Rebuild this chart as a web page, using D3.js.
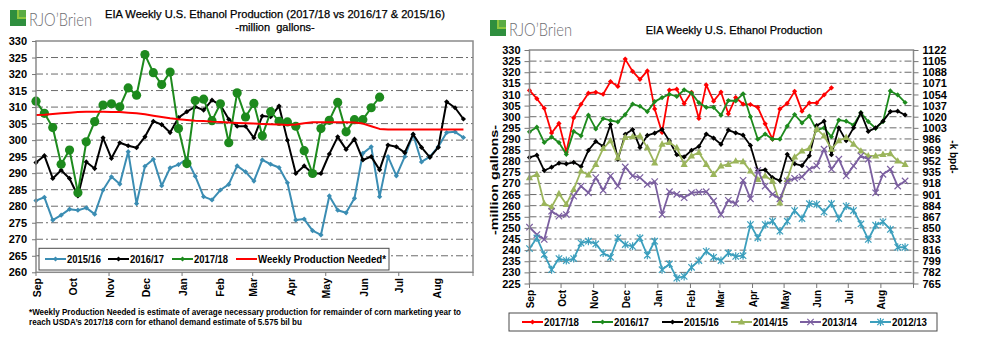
<!DOCTYPE html>
<html>
<head>
<meta charset="utf-8">
<script src="https://cdn.jsdelivr.net/npm/d3@7"></script>
<style>
  body { margin: 0; background: #fff; }
  svg { display: block; font-family: "Liberation Sans", Arial, sans-serif; }
</style>
</head>
<body>
<div id="chart"></div>
<script>
// Datos: meses del año comercial (sep-ago) y su día de inicio
const months = ['Sep', 'Oct', 'Nov', 'Dec', 'Jan', 'Feb', 'Mar', 'Apr', 'May', 'Jun', 'Jul', 'Aug'];
const monthDays = [0, 30, 61, 91, 122, 153, 181, 212, 242, 273, 303, 334];

// Producción semanal (millones de galones)
const prod1718 = [311.8, 308.1, 303.8, 292.7, 297.0, 284.1, 299.5, 305.6, 310.6, 311.0, 310.1, 315.8, 313.6, 325.9,
  320.4, 316.8, 320.6, 303.5, 292.9, 312.0, 312.4, 305.9, 311.0, 299.2, 314.3, 307.0, 311.1, 301.3, 308.6, 305.7,
  305.5, 304.2, 296.8, 289.9, 303.5, 306.0, 311.4, 302.5, 306.2, 306.2, 309.8, 313.0];
const prod1617 = [293.2, 295.3, 288.4, 290.9, 288.4, 283.1, 293.4, 291.4, 300.7, 294.5, 299.2, 298.3, 297.7, 301.0,
  305.7, 304.7, 302.3, 306.8, 308.6, 310.1, 309.1, 312.1, 310.6, 306.3, 304.2, 304.2, 300.7, 307.3, 307.1, 310.3,
  300.0, 289.9, 292.2, 289.9, 289.9, 295.8, 301.0, 297.2, 300.3, 294.0, 295.0, 291.0, 298.5, 298.0, 296.2, 301.8,
  297.8, 294.8, 297.8, 311.6, 309.8, 306.4];
const prod1516 = [281.7, 282.7, 275.8, 277.3, 279.1, 278.8, 279.5, 277.6, 284.9, 288.9, 286.7, 296.5, 280.8, 292.1,
  294.2, 286.2, 291.6, 292.6, 294.3, 289.1, 282.9, 281.9, 284.9, 286.6, 292.2, 290.4, 287.6, 294.0, 292.7, 291.7,
  287.1, 275.8, 276.1, 272.6, 271.3, 283.1, 278.8, 278.0, 282.4, 296.0, 298.0, 282.9, 295.0, 289.2, 295.0, 301.7,
  293.4, 295.0, 298.0, 302.3, 302.5, 300.8];
const prod1415 = [272.6, 274.1, 261.0, 259.4, 265.4, 260.6, 267.3, 275.6, 273.8, 278.6, 285.7, 289.2, 281.6, 290.7,
  291.0, 291.4, 286.1, 279.2, 287.7, 288.4, 286.1, 278.6, 282.4, 283.9, 278.6, 274.1, 277.9, 278.6, 280.1, 279.8,
  275.6, 271.8, 273.4, 271.1, 261.3, 271.8, 281.9, 284.6, 285.8, 294.4, 291.4, 285.4, 289.2, 290.7, 287.7, 284.6,
  282.4, 282.4, 283.1, 283.4, 280.1, 278.6];
const prod1314 = [250.3, 247.0, 244.8, 257.5, 255.3, 256.0, 264.3, 268.8, 265.8, 272.6, 266.9, 273.4, 268.8, 277.4,
  273.4, 272.6, 269.6, 270.8, 256.0, 266.3, 265.1, 263.6, 265.8, 266.1, 266.3, 262.1, 256.0, 262.4, 260.9, 271.4,
  263.1, 275.9, 268.8, 265.1, 263.1, 271.1, 272.3, 272.9, 276.4, 277.9, 285.4, 276.4, 280.9, 273.4, 277.9, 282.4,
  280.9, 265.8, 274.1, 276.4, 268.8, 271.1];
const prod1213 = [240.7, 245.5, 238.0, 231.2, 236.2, 235.3, 236.2, 243.2, 244.0, 242.8, 238.7, 236.8, 245.5, 242.5,
  241.7, 245.5, 237.7, 244.0, 231.2, 233.8, 227.4, 228.2, 232.3, 235.3, 239.5, 236.8, 235.3, 238.7, 237.2, 237.5,
  251.5, 245.5, 251.5, 253.0, 248.5, 253.0, 257.8, 254.2, 260.9, 260.6, 257.2, 260.9, 254.2, 259.8, 257.8, 251.8,
  244.8, 251.2, 252.7, 249.3, 241.3, 241.3];
// Producción semanal necesaria
const needed = [307.6, 307.7, 307.9, 308.1, 308.3, 308.5, 308.6, 308.6, 308.6, 308.5, 308.5, 308.3, 308.1, 307.8,
  307.4, 307.0, 306.6, 306.3, 306.1, 305.9, 305.8, 305.6, 305.5, 305.3, 305.2, 305.1, 305.0, 304.9, 304.8, 304.7,
  304.6, 304.7, 305.1, 305.4, 305.4, 305.4, 305.4, 305.4, 305.3, 305.0, 304.2, 303.4, 303.2, 303.2, 303.2, 303.2,
  303.2, 303.2, 303.2, 303.2, 303.2, 303.2];

// Etiquetas de ejes
const leftTicksL = d3.range(260, 331, 5);
const leftTicksR = d3.range(225, 331, 5);
const rightTicksR = d3.range(765, 1123, 17);

const svg = d3.select('#chart').append('svg')
    .attr('width', 995)
    .attr('height', 360);

const gridColor = '#6b6b6b';

function drawLogo(x, y) {
    const g = svg.append('g').attr('transform', `translate(${x},${y})`);
    g.append('rect').attr('x', 0).attr('y', 0).attr('width', 16).attr('height', 16).attr('fill', '#8dc63f');
    g.append('path').attr('d', 'M0,0 H7 V9 H16 V16 H0 Z').attr('fill', '#2f8f3e');
    g.append('path').attr('d', 'M9,0 H16 V7 H9 Z').attr('fill', '#5aab44');
    g.append('text')
        .attr('x', 19).attr('y', 16)
        .attr('font-family', 'Lato, "Open Sans", sans-serif')
        .attr('font-weight', 300)
        .attr('font-size', '18px')
        .attr('fill', '#6d6e71')
        .attr('textLength', 63)
        .attr('lengthAdjust', 'spacingAndGlyphs')
        .text('RJO\u2019Brien');
}

function drawMarker(g, type, color, x, y) {
    const m = g.append('g').attr('transform', `translate(${x},${y})`);
    if (type === 'circle') {
        m.append('circle').attr('r', 4.6).attr('fill', color);
    } else if (type === 'diamond') {
        m.append('path').attr('d', 'M0,-2.6L2.6,0L0,2.6L-2.6,0Z').attr('fill', color);
    } else if (type === 'triangle') {
        m.append('path').attr('d', 'M0,-3.8L3.6,2.6L-3.6,2.6Z').attr('fill', color);
    } else if (type === 'x') {
        m.append('path').attr('d', 'M-3.2,-3.2L3.2,3.2M-3.2,3.2L3.2,-3.2')
            .attr('stroke', color).attr('stroke-width', 1.2);
    } else if (type === 'star') {
        m.append('path').attr('d', 'M-3.2,-3.2L3.2,3.2M-3.2,3.2L3.2,-3.2M0,-4L0,4')
            .attr('stroke', color).attr('stroke-width', 1.2);
    }
}

function drawSeries(g, data, x, y, color, marker, width) {
    const line = d3.line()
        .x((d, i) => x(i * 7))
        .y(d => y(d));
    g.append('path')
        .datum(data)
        .attr('fill', 'none')
        .attr('stroke', color)
        .attr('stroke-width', width)
        .attr('stroke-linejoin', 'round')
        .attr('d', line);
    if (marker) {
        data.forEach((d, i) => drawMarker(g, marker, color, x(i * 7), y(d)));
    }
}

function drawGrid(x0, x1, y, values) {
    svg.append('g').selectAll('line')
        .data(values)
        .enter()
        .append('line')
        .attr('x1', x0).attr('x2', x1)
        .attr('y1', d => y(d)).attr('y2', d => y(d))
        .attr('stroke', gridColor)
        .attr('stroke-width', 1)
        .attr('stroke-dasharray', '7,3,2,3');
}

function styleAxis(g, size) {
    g.select('.domain').remove();
    g.selectAll('.tick line').attr('stroke', '#777');
    g.selectAll('.tick text')
        .attr('fill', '#000')
        .attr('font-size', size)
        .attr('font-weight', 'bold')
        .attr('font-family', '"Liberation Sans", Arial, sans-serif');
}

function drawLegend(x0, y0, w, h, items, ty) {
    svg.append('rect')
        .attr('x', x0).attr('y', y0).attr('width', w).attr('height', h)
        .attr('fill', '#fff').attr('stroke', '#4a4a4a').attr('stroke-width', 1);
    items.forEach(it => {
        const g = svg.append('g');
        g.append('line')
            .attr('x1', it.x).attr('x2', it.x + 21)
            .attr('y1', ty - 4).attr('y2', ty - 4)
            .attr('stroke', it.color).attr('stroke-width', 2);
        if (it.marker) drawMarker(g, it.marker, it.color, it.x + 10.5, ty - 4);
        g.append('text')
            .attr('x', it.x + 22).attr('y', ty)
            .attr('font-size', '10.5px').attr('font-weight', 'bold')
            .attr('textLength', it.len).attr('lengthAdjust', 'spacingAndGlyphs')
            .text(it.label);
    });
}

// ---------------- Panel izquierdo ----------------
const xL = d3.scaleLinear().domain([0, 365]).range([36, 473]);
const yL = d3.scaleLinear().domain([260, 330]).range([272.3, 41]);

drawLogo(10, 10);
svg.append('text')
    .attr('x', 275).attr('y', 18)
    .attr('text-anchor', 'middle')
    .attr('font-size', '11px')
    .attr('textLength', 340).attr('lengthAdjust', 'spacingAndGlyphs')
    .attr('stroke', '#000').attr('stroke-width', 0.25)
    .text('EIA Weekly U.S. Ethanol Production (2017/18 vs 2016/17 & 2015/16)');
svg.append('text')
    .attr('x', 275).attr('y', 31)
    .attr('text-anchor', 'middle')
    .attr('font-size', '11px')
    .attr('stroke', '#000').attr('stroke-width', 0.25)
    .attr('xml:space', 'preserve')
    .text('-million  gallons-');

drawGrid(36, 473, yL, d3.range(265, 330, 5));

const plotL = svg.append('g');
drawSeries(plotL, prod1516, xL, yL, '#3b8db3', 'diamond', 2);
drawSeries(plotL, prod1617, xL, yL, '#000000', 'diamond', 2);
drawSeries(plotL, prod1718, xL, yL, '#1d8a1d', 'circle', 2);
drawSeries(plotL, needed, xL, yL, '#ff0000', null, 2);

svg.append('rect')
    .attr('x', 36).attr('y', 41).attr('width', 437).attr('height', 231.3)
    .attr('fill', 'none').attr('stroke', '#8a8a8a').attr('stroke-width', 1.5);

const axL = svg.append('g')
    .attr('transform', 'translate(36,0)')
    .call(d3.axisLeft(yL).tickValues(leftTicksL).tickSize(4).tickPadding(5));
styleAxis(axL, '11px');

// Marcas y etiquetas de meses
svg.append('g').selectAll('line')
    .data([0, 61, 122, 181, 242, 303, 365])
    .enter().append('line')
    .attr('x1', d => xL(d)).attr('x2', d => xL(d))
    .attr('y1', 272.3).attr('y2', 276)
    .attr('stroke', '#777');
svg.append('g').selectAll('text')
    .data(months)
    .enter().append('text')
    .attr('transform', (d, i) => `translate(${xL(monthDays[i]) + 1},278) rotate(-90)`)
    .attr('text-anchor', 'end')
    .attr('dy', '0.35em')
    .attr('font-size', '10.5px').attr('font-weight', 'bold')
    .text(d => d);

drawLegend(39, 248.3, 350, 21.7, [
    { label: '2015/16', color: '#3b8db3', marker: 'diamond', x: 45, len: 34 },
    { label: '2016/17', color: '#000000', marker: 'diamond', x: 108, len: 34 },
    { label: '2017/18', color: '#1d8a1d', marker: 'diamond', x: 172, len: 34 },
    { label: 'Weekly Production Needed*', color: '#ff0000', marker: null, x: 236, len: 128 }
], 263);

svg.append('text')
    .attr('x', 29).attr('y', 315)
    .attr('font-size', '9px').attr('font-weight', 'bold')
    .attr('textLength', 432).attr('lengthAdjust', 'spacingAndGlyphs')
    .text('*Weekly Production Needed is estimate of average necessary production for remainder of corn marketing year to');
svg.append('text')
    .attr('x', 29).attr('y', 324.5)
    .attr('font-size', '9px').attr('font-weight', 'bold')
    .attr('textLength', 273).attr('lengthAdjust', 'spacingAndGlyphs')
    .text('reach USDA\u2019s 2017/18 corn for ethanol demand estimate of 5.575 bil bu');

// ---------------- Panel derecho ----------------
const xR = d3.scaleLinear().domain([0, 365]).range([529.5, 913.5]);
const yR = d3.scaleLinear().domain([225, 330]).range([283.5, 50]);
const kR = d3.scaleLinear().domain([765, 1122]).range([283.5, 50]);

drawLogo(490, 20);
svg.append('text')
    .attr('x', 734).attr('y', 34)
    .attr('text-anchor', 'middle')
    .attr('font-size', '11px')
    .attr('stroke', '#000').attr('stroke-width', 0.25)
    .text('EIA Weekly U.S. Ethanol Production');

drawGrid(529.5, 913.5, yR, d3.range(230, 330, 5));

const plotR = svg.append('g');
drawSeries(plotR, prod1718, xR, yR, '#ff0000', 'diamond', 1.8);
drawSeries(plotR, prod1617, xR, yR, '#1d8a1d', 'diamond', 1.8);
drawSeries(plotR, prod1516, xR, yR, '#000000', 'diamond', 1.8);
drawSeries(plotR, prod1415, xR, yR, '#9bb55b', 'triangle', 1.8);
drawSeries(plotR, prod1314, xR, yR, '#7b5fa0', 'x', 1.8);
drawSeries(plotR, prod1213, xR, yR, '#3c9fbd', 'star', 1.8);

svg.append('rect')
    .attr('x', 529.5).attr('y', 50).attr('width', 384).attr('height', 233.5)
    .attr('fill', 'none').attr('stroke', '#8a8a8a').attr('stroke-width', 1.5);

const axRL = svg.append('g')
    .attr('transform', 'translate(529.5,0)')
    .call(d3.axisLeft(yR).tickValues(leftTicksR).tickSize(5).tickPadding(4));
styleAxis(axRL, '11px');
const axRR = svg.append('g')
    .attr('transform', 'translate(913.5,0)')
    .call(d3.axisRight(kR).tickValues(rightTicksR).tickSize(5).tickPadding(4).tickFormat(d3.format('d')));
styleAxis(axRR, '11px');

svg.append('text')
    .attr('transform', 'translate(494,180) rotate(-90)')
    .attr('text-anchor', 'middle')
    .attr('dy', '0.35em')
    .attr('font-size', '10px').attr('font-weight', 'bold')
    .attr('textLength', 110).attr('lengthAdjust', 'spacingAndGlyphs')
    .text('-million  gallons-');
svg.append('text')
    .attr('transform', 'translate(953,157) rotate(90)')
    .attr('text-anchor', 'middle')
    .attr('dy', '0.35em')
    .attr('font-size', '10px').attr('font-weight', 'bold')
    .text('-k bpd-');

svg.append('g').selectAll('line')
    .data(monthDays.concat([365]))
    .enter().append('line')
    .attr('x1', d => xR(d)).attr('x2', d => xR(d))
    .attr('y1', 283.5).attr('y2', 288)
    .attr('stroke', '#777');
svg.append('g').selectAll('text')
    .data(months)
    .enter().append('text')
    .attr('transform', (d, i) => `translate(${xR(monthDays[i]) + 1},290) rotate(-90)`)
    .attr('text-anchor', 'end')
    .attr('dy', '0.35em')
    .attr('font-size', '10px').attr('font-weight', 'bold')
    .text(d => d);

drawLegend(509, 313, 428, 18, [
    { label: '2017/18', color: '#ff0000', marker: 'diamond', x: 522, len: 35 },
    { label: '2016/17', color: '#1d8a1d', marker: 'diamond', x: 592, len: 35 },
    { label: '2015/16', color: '#000000', marker: 'diamond', x: 662, len: 35 },
    { label: '2014/15', color: '#9bb55b', marker: 'triangle', x: 731, len: 35 },
    { label: '2013/14', color: '#7b5fa0', marker: 'x', x: 800, len: 35 },
    { label: '2012/13', color: '#3c9fbd', marker: 'star', x: 870, len: 35 }
], 326);
</script>
</body>
</html>
